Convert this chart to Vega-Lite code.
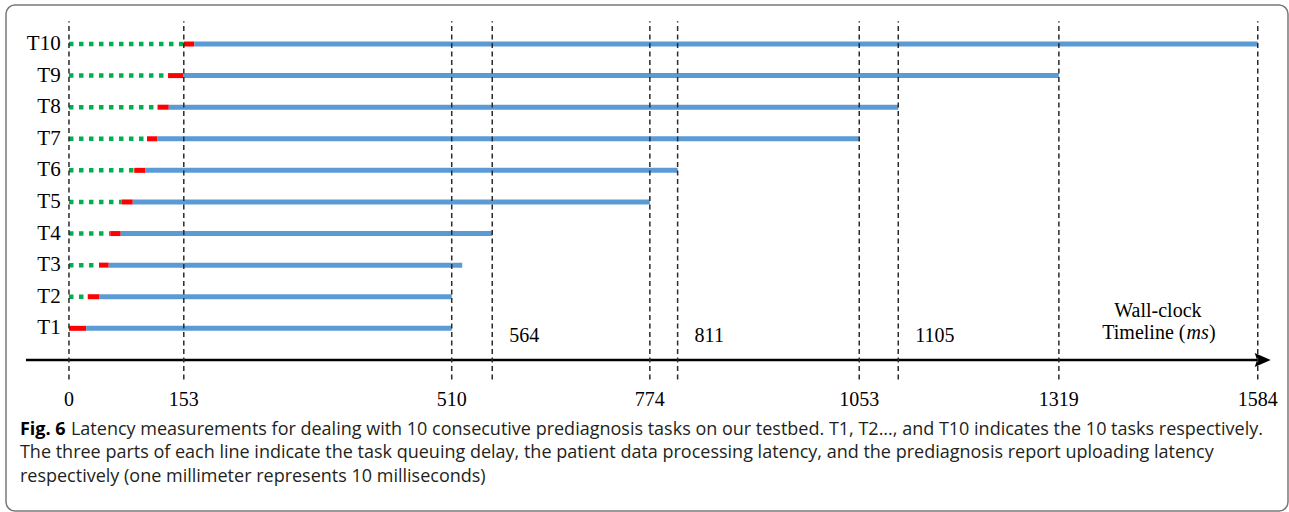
{
  "$schema": "https://vega.github.io/schema/vega-lite/v6.json",
  "width": 1289,
  "height": 512,
  "autosize": {"type": "fit", "contains": "padding"},
  "padding": {"left": 6, "top": 5, "right": 1, "bottom": 1},
  "background": "white",
  "config": {"view": {"stroke": "#7a7a7a", "strokeWidth": 1.5, "cornerRadius": 9}},
  "datasets": {
    "tasks": [
      {"task": "T1", "row": 1, "start": 0, "queue": 0, "proc": 23, "done": 510},
      {"task": "T2", "row": 2, "start": 0, "queue": 25, "proc": 40, "done": 510},
      {"task": "T3", "row": 3, "start": 0, "queue": 40, "proc": 53, "done": 524},
      {"task": "T4", "row": 4, "start": 0, "queue": 55, "proc": 69, "done": 564},
      {"task": "T5", "row": 5, "start": 0, "queue": 70, "proc": 85, "done": 774},
      {"task": "T6", "row": 6, "start": 0, "queue": 87, "proc": 102, "done": 811},
      {"task": "T7", "row": 7, "start": 0, "queue": 104, "proc": 118, "done": 1053},
      {"task": "T8", "row": 8, "start": 0, "queue": 118, "proc": 133, "done": 1105},
      {"task": "T9", "row": 9, "start": 0, "queue": 132, "proc": 152, "done": 1319},
      {"task": "T10", "row": 10, "start": 0, "queue": 153, "proc": 167, "done": 1584}
    ],
    "marks": [
      {"ms": 0, "tick": true, "note": false},
      {"ms": 153, "tick": true, "note": false},
      {"ms": 510, "tick": true, "note": false},
      {"ms": 564, "tick": false, "note": true},
      {"ms": 774, "tick": true, "note": false},
      {"ms": 811, "tick": false, "note": true},
      {"ms": 1053, "tick": true, "note": false},
      {"ms": 1105, "tick": false, "note": true},
      {"ms": 1319, "tick": true, "note": false},
      {"ms": 1584, "tick": true, "note": false}
    ],
    "one": [{"id": 1}]
  },
  "layer": [
    {
      "data": {"name": "tasks"},
      "transform": [{"filter": "datum.queue > 0"}],
      "mark": {"type": "rule", "color": "#00B050", "strokeWidth": 4.5, "strokeDash": [4.5, 5.5], "strokeCap": "butt"},
      "encoding": {
        "x": {"field": "start", "type": "quantitative", "scale": {"domain": [-83.9, 1624.3], "nice": false, "zero": false}, "axis": null},
        "x2": {"field": "queue"},
        "y": {"field": "row", "type": "quantitative", "scale": {"domain": [-4.783, 11.235], "nice": false, "zero": false}, "axis": null}
      }
    },
    {
      "data": {"name": "tasks"},
      "mark": {"type": "rule", "color": "#FF0000", "strokeWidth": 5, "strokeCap": "butt"},
      "encoding": {
        "x": {"field": "queue", "type": "quantitative", "scale": {"domain": [-83.9, 1624.3], "nice": false, "zero": false}, "axis": null},
        "x2": {"field": "proc"},
        "y": {"field": "row", "type": "quantitative", "scale": {"domain": [-4.783, 11.235], "nice": false, "zero": false}, "axis": null}
      }
    },
    {
      "data": {"name": "tasks"},
      "mark": {"type": "rule", "color": "#5B9BD5", "strokeWidth": 5, "strokeCap": "butt"},
      "encoding": {
        "x": {"field": "proc", "type": "quantitative", "scale": {"domain": [-83.9, 1624.3], "nice": false, "zero": false}, "axis": null},
        "x2": {"field": "done"},
        "y": {"field": "row", "type": "quantitative", "scale": {"domain": [-4.783, 11.235], "nice": false, "zero": false}, "axis": null}
      }
    },
    {
      "data": {"name": "one"},
      "mark": {"type": "rule", "color": "#000000", "strokeWidth": 2.5, "strokeCap": "butt"},
      "encoding": {
        "x": {"datum": -57.3, "type": "quantitative", "scale": {"domain": [-83.9, 1624.3], "nice": false, "zero": false}, "axis": null},
        "x2": {"datum": 1590.6, "type": "quantitative"},
        "y": {"datum": 0, "type": "quantitative", "scale": {"domain": [-4.783, 11.235], "nice": false, "zero": false}, "axis": null}
      }
    },
    {
      "data": {"name": "one"},
      "mark": {"type": "point", "shape": "M-1,-0.875L1,0L-1,0.875L-0.7,0Z", "filled": true, "color": "#000000", "opacity": 1, "size": 256, "strokeWidth": 0},
      "encoding": {
        "x": {"datum": 1590.6, "type": "quantitative", "scale": {"domain": [-83.9, 1624.3], "nice": false, "zero": false}, "axis": null},
        "y": {"datum": 0, "type": "quantitative", "scale": {"domain": [-4.783, 11.235], "nice": false, "zero": false}, "axis": null}
      }
    },
    {
      "data": {"name": "marks"},
      "mark": {"type": "rule", "color": "#2b2b2b", "strokeWidth": 1.5, "strokeDash": [5, 3.5]},
      "encoding": {
        "x": {"field": "ms", "type": "quantitative", "scale": {"domain": [-83.9, 1624.3], "nice": false, "zero": false}, "axis": null},
        "y": {"datum": -0.62, "type": "quantitative", "scale": {"domain": [-4.783, 11.235], "nice": false, "zero": false}, "axis": null},
        "y2": {"datum": 10.72, "type": "quantitative"}
      }
    },
    {
      "data": {"name": "marks"},
      "transform": [{"filter": "datum.tick"}],
      "mark": {"type": "text", "font": "Liberation Serif", "fontSize": 20, "color": "#000000", "baseline": "middle", "align": "center"},
      "encoding": {
        "x": {"field": "ms", "type": "quantitative", "scale": {"domain": [-83.9, 1624.3], "nice": false, "zero": false}, "axis": null},
        "y": {"datum": -1.26, "type": "quantitative", "scale": {"domain": [-4.783, 11.235], "nice": false, "zero": false}, "axis": null},
        "text": {"field": "ms", "type": "quantitative", "format": "d"}
      }
    },
    {
      "data": {"name": "marks"},
      "transform": [{"filter": "datum.note"}],
      "mark": {"type": "text", "font": "Liberation Serif", "fontSize": 20, "color": "#000000", "baseline": "middle", "align": "left", "dx": 17},
      "encoding": {
        "x": {"field": "ms", "type": "quantitative", "scale": {"domain": [-83.9, 1624.3], "nice": false, "zero": false}, "axis": null},
        "y": {"datum": 0.76, "type": "quantitative", "scale": {"domain": [-4.783, 11.235], "nice": false, "zero": false}, "axis": null},
        "text": {"field": "ms", "type": "quantitative", "format": "d"}
      }
    },
    {
      "data": {"name": "tasks"},
      "mark": {"type": "text", "font": "Liberation Serif", "fontSize": 21, "color": "#000000", "baseline": "middle", "align": "right"},
      "encoding": {
        "x": {"datum": -11.1, "type": "quantitative", "scale": {"domain": [-83.9, 1624.3], "nice": false, "zero": false}, "axis": null},
        "y": {"field": "row", "type": "quantitative", "scale": {"domain": [-4.783, 11.235], "nice": false, "zero": false}, "axis": null},
        "text": {"field": "task"}
      }
    },
    {
      "data": {"name": "one"},
      "mark": {"type": "text", "font": "Liberation Serif", "fontSize": 20, "color": "#000000", "baseline": "middle", "align": "center", "text": "Wall-clock"},
      "encoding": {
        "x": {"datum": 1451, "type": "quantitative", "scale": {"domain": [-83.9, 1624.3], "nice": false, "zero": false}, "axis": null},
        "y": {"datum": 1.56, "type": "quantitative", "scale": {"domain": [-4.783, 11.235], "nice": false, "zero": false}, "axis": null}
      }
    },
    {
      "data": {"name": "one"},
      "mark": {"type": "text", "font": "Liberation Serif", "fontSize": 20, "color": "#000000", "baseline": "middle", "align": "right", "dx": 27.5, "text": "Timeline ("},
      "encoding": {
        "x": {"datum": 1451, "type": "quantitative", "scale": {"domain": [-83.9, 1624.3], "nice": false, "zero": false}, "axis": null},
        "y": {"datum": 0.84, "type": "quantitative", "scale": {"domain": [-4.783, 11.235], "nice": false, "zero": false}, "axis": null}
      }
    },
    {
      "data": {"name": "one"},
      "mark": {"type": "text", "font": "Liberation Serif", "fontSize": 20, "fontStyle": "italic", "color": "#000000", "baseline": "middle", "align": "left", "dx": 28.5, "text": "ms"},
      "encoding": {
        "x": {"datum": 1451, "type": "quantitative", "scale": {"domain": [-83.9, 1624.3], "nice": false, "zero": false}, "axis": null},
        "y": {"datum": 0.84, "type": "quantitative", "scale": {"domain": [-4.783, 11.235], "nice": false, "zero": false}, "axis": null}
      }
    },
    {
      "data": {"name": "one"},
      "mark": {"type": "text", "font": "Liberation Serif", "fontSize": 20, "color": "#000000", "baseline": "middle", "align": "left", "dx": 51, "text": ")"},
      "encoding": {
        "x": {"datum": 1451, "type": "quantitative", "scale": {"domain": [-83.9, 1624.3], "nice": false, "zero": false}, "axis": null},
        "y": {"datum": 0.84, "type": "quantitative", "scale": {"domain": [-4.783, 11.235], "nice": false, "zero": false}, "axis": null}
      }
    },
    {
      "data": {"name": "one"},
      "mark": {"type": "text", "font": "Open Sans", "fontSize": 18, "fontWeight": "bold", "color": "#000000", "baseline": "middle", "align": "left", "text": "Fig. 6"},
      "encoding": {
        "x": {"datum": -65.3, "type": "quantitative", "scale": {"domain": [-83.9, 1624.3], "nice": false, "zero": false}, "axis": null},
        "y": {"datum": -2.22, "type": "quantitative", "scale": {"domain": [-4.783, 11.235], "nice": false, "zero": false}, "axis": null}
      }
    },
    {
      "data": {"name": "one"},
      "mark": {"type": "text", "font": "Open Sans", "fontSize": 18, "color": "#231f20", "baseline": "middle", "align": "left", "dx": 51, "text": "Latency measurements for dealing with 10 consecutive prediagnosis tasks on our testbed. T1, T2..., and T10 indicates the 10 tasks respectively."},
      "encoding": {
        "x": {"datum": -65.3, "type": "quantitative", "scale": {"domain": [-83.9, 1624.3], "nice": false, "zero": false}, "axis": null},
        "y": {"datum": -2.22, "type": "quantitative", "scale": {"domain": [-4.783, 11.235], "nice": false, "zero": false}, "axis": null}
      }
    },
    {
      "data": {"name": "one"},
      "mark": {"type": "text", "font": "Open Sans", "fontSize": 18, "color": "#231f20", "baseline": "middle", "align": "left", "text": "The three parts of each line indicate the task queuing delay, the patient data processing latency, and the prediagnosis report uploading latency"},
      "encoding": {
        "x": {"datum": -65.3, "type": "quantitative", "scale": {"domain": [-83.9, 1624.3], "nice": false, "zero": false}, "axis": null},
        "y": {"datum": -2.946, "type": "quantitative", "scale": {"domain": [-4.783, 11.235], "nice": false, "zero": false}, "axis": null}
      }
    },
    {
      "data": {"name": "one"},
      "mark": {"type": "text", "font": "Open Sans", "fontSize": 18, "color": "#231f20", "baseline": "middle", "align": "left", "text": "respectively (one millimeter represents 10 milliseconds)"},
      "encoding": {
        "x": {"datum": -65.3, "type": "quantitative", "scale": {"domain": [-83.9, 1624.3], "nice": false, "zero": false}, "axis": null},
        "y": {"datum": -3.707, "type": "quantitative", "scale": {"domain": [-4.783, 11.235], "nice": false, "zero": false}, "axis": null}
      }
    }
  ]
}
